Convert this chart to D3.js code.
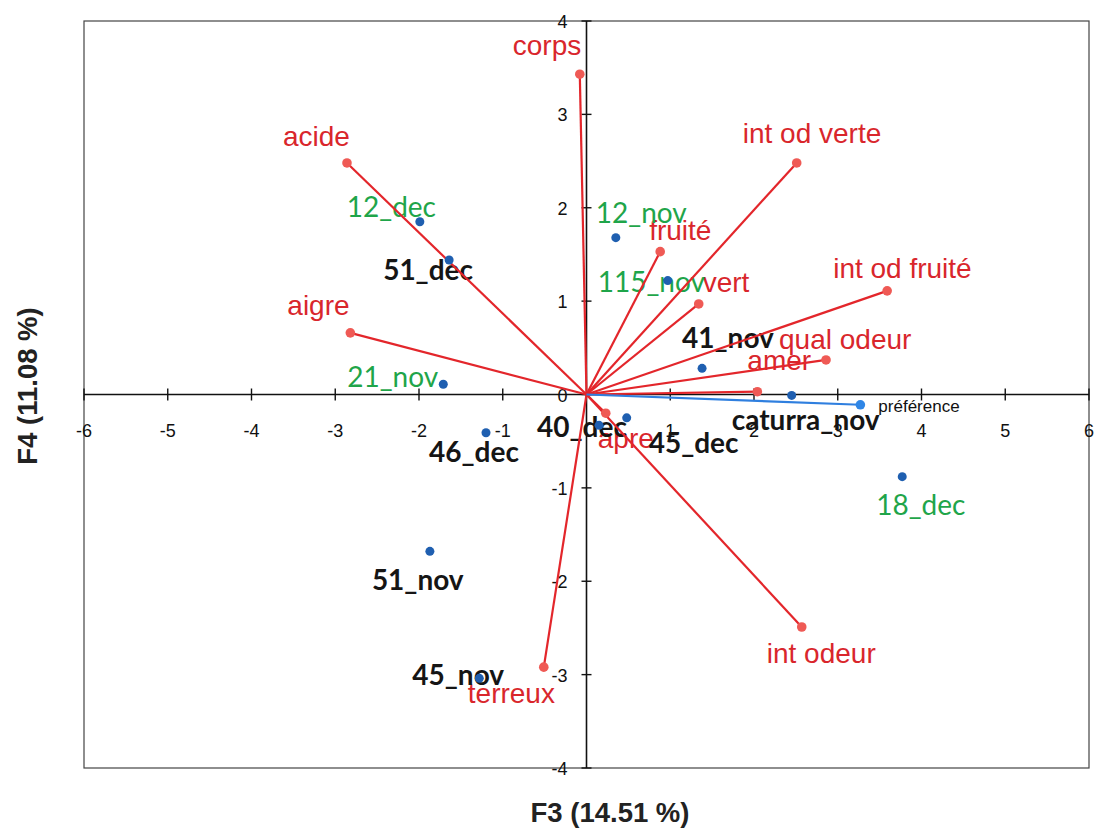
<!DOCTYPE html>
<html lang="fr">
<head>
<meta charset="UTF-8">
<title>Biplot F3 / F4</title>
<script src="https://d3js.org/d3.v7.min.js"></script>
<style>
  body { margin: 0; background: #fff; }
  .tick-label { font-family: "Liberation Sans", Arial, sans-serif; font-size: 18px; fill: #111; }
  .var-label { font-family: "Liberation Sans", Arial, sans-serif; font-size: 28px; fill: #d9262c; }
  .obs-label { font-family: Lato, "Open Sans", sans-serif; font-size: 28px; }
  .axis-title { font-family: "Liberation Sans", Arial, sans-serif; font-size: 27.5px; font-weight: bold; fill: #222; }
</style>
</head>
<body>
<svg width="1095" height="830"></svg>
<script>
// variables (red vectors)
const varNames = ["corps", "acide", "aigre", "int od verte", "int od fruité", "fruité", "vert",
                  "qual odeur", "amer", "apre", "int odeur", "terreux"];
const varF3 = [-0.08, -2.86, -2.82, 2.51, 3.59, 0.88, 1.34, 2.86, 2.04, 0.23, 2.57, -0.51];
const varF4 = [3.43, 2.48, 0.66, 2.48, 1.11, 1.53, 0.97, 0.37, 0.03, -0.20, -2.49, -2.92];

// supplementary variable
const prefName = "préférence";
const prefF3 = 3.27;
const prefF4 = -0.11;

// observations
const obsNames = ["12_dec", "51_dec", "12_nov", "115_nov", "41_nov", "21_nov", "46_dec",
                  "40_dec", "45_dec", "caturra_nov", "18_dec", "51_nov", "45_nov"];
const obsF3 = [-1.99, -1.64, 0.35, 0.97, 1.38, -1.71, -1.20, 0.15, 0.48, 2.45, 3.77, -1.87, -1.28];
const obsF4 = [1.85, 1.44, 1.68, 1.22, 0.28, 0.11, -0.41, -0.33, -0.25, -0.01, -0.88, -1.68, -3.04];
const obsGreen = [true, false, true, true, false, true, false, false, false, false, true, false, false];

const xTicks = [-6, -5, -4, -3, -2, -1, 1, 2, 3, 4, 5, 6];
const yTicks = [-4, -3, -2, -1, 0, 1, 2, 3, 4];

// label offsets in pixels (layout only)
const varLabelOffset = {
  "corps": [-67, -19], "acide": [-64, -17], "aigre": [-63, -18], "int od verte": [-54, -20],
  "int od fruité": [-54, -13], "fruité": [-11, -12], "vert": [4, -12], "qual odeur": [-47, -11],
  "amer": [-10, -22], "apre": [-8, 35], "int odeur": [-35, 36], "terreux": [-76, 36]
};
const obsLabelOffset = {
  "12_dec": [-73, -5], "51_dec": [-66, 20], "12_nov": [-20, -15], "115_nov": [-70, 11],
  "41_nov": [-20, -20], "21_nov": [-96, 3], "46_dec": [-57, 29], "40_dec": [-62, 12],
  "45_dec": [22, 35], "caturra_nov": [-60, 35], "18_dec": [-26, 38], "51_nov": [-58, 39],
  "45_nov": [-67, 7]
};

const svg = d3.select("svg");
const plotLeft = 84, plotRight = 1089, plotTop = 21, plotBottom = 768;

const x = d3.scaleLinear().domain([-6, 6]).range([plotLeft, plotRight]);
const y = d3.scaleLinear().domain([-4, 4]).range([plotBottom, plotTop]);

// frame
svg.append("rect")
  .attr("x", plotLeft).attr("y", plotTop)
  .attr("width", plotRight - plotLeft).attr("height", plotBottom - plotTop)
  .attr("fill", "none").attr("stroke", "#444").attr("stroke-width", 1.2);

// axes through origin
const xAxis = svg.append("g").attr("transform", `translate(0,${y(0)})`);
xAxis.append("line").attr("x1", plotLeft).attr("x2", plotRight).attr("stroke", "#111").attr("stroke-width", 1.6);
xAxis.selectAll(".xt").data(xTicks).join("line")
  .attr("x1", d => x(d)).attr("x2", d => x(d)).attr("y1", -6).attr("y2", 6)
  .attr("stroke", "#111").attr("stroke-width", 1.4);
xAxis.selectAll(".xl").data(xTicks).join("text")
  .attr("class", "tick-label")
  .attr("x", d => x(d)).attr("y", 42)
  .attr("text-anchor", "middle")
  .text(d => d);

const yAxis = svg.append("g").attr("transform", `translate(${x(0)},0)`);
yAxis.append("line").attr("y1", plotTop).attr("y2", plotBottom).attr("stroke", "#111").attr("stroke-width", 1.6);
yAxis.selectAll(".yt").data(yTicks).join("line")
  .attr("y1", d => y(d)).attr("y2", d => y(d)).attr("x1", -5).attr("x2", 5)
  .attr("stroke", "#111").attr("stroke-width", 1.4);
yAxis.selectAll(".yl").data(yTicks).join("text")
  .attr("class", "tick-label")
  .attr("x", -19).attr("y", d => y(d) + 7)
  .attr("text-anchor", "end")
  .text(d => d);

// axis titles
svg.append("text").attr("class", "axis-title")
  .attr("x", 610).attr("y", 822).attr("text-anchor", "middle")
  .text("F3 (14.51 %)");
svg.append("text").attr("class", "axis-title")
  .attr("transform", `translate(37,386) rotate(-90)`).attr("text-anchor", "middle")
  .text("F4 (11.08 %)");

const vars = varNames.map((n, i) => ({ name: n, f3: varF3[i], f4: varF4[i] }));
const obs = obsNames.map((n, i) => ({ name: n, f3: obsF3[i], f4: obsF4[i], green: obsGreen[i] }));

// labels first, lines and dots drawn over them
svg.append("g").selectAll("text").data(vars).join("text")
  .attr("class", "var-label")
  .attr("x", d => x(d.f3) + varLabelOffset[d.name][0])
  .attr("y", d => y(d.f4) + varLabelOffset[d.name][1])
  .text(d => d.name);

svg.append("g").selectAll("text").data(obs).join("text")
  .attr("class", "obs-label")
  .attr("x", d => x(d.f3) + obsLabelOffset[d.name][0])
  .attr("y", d => y(d.f4) + obsLabelOffset[d.name][1])
  .attr("fill", d => d.green ? "#1fa54a" : "#151515")
  .attr("font-weight", d => d.green ? "normal" : "bold")
  .text(d => d.name);

svg.append("text")
  .attr("x", x(prefF3) + 18).attr("y", y(prefF4) + 7)
  .attr("font-family", "'Liberation Sans', Arial, sans-serif")
  .attr("font-size", 17).attr("fill", "#111")
  .text(prefName);

// variable vectors
svg.append("g").selectAll("line").data(vars).join("line")
  .attr("x1", x(0)).attr("y1", y(0))
  .attr("x2", d => x(d.f3)).attr("y2", d => y(d.f4))
  .attr("stroke", "#e3262b").attr("stroke-width", 2.2);

svg.append("line")
  .attr("x1", x(0)).attr("y1", y(0))
  .attr("x2", x(prefF3)).attr("y2", y(prefF4))
  .attr("stroke", "#2f7fdf").attr("stroke-width", 2.2);

svg.append("g").selectAll("circle").data(vars).join("circle")
  .attr("cx", d => x(d.f3)).attr("cy", d => y(d.f4)).attr("r", 4.8)
  .attr("fill", "#ef5a55");

svg.append("circle")
  .attr("cx", x(prefF3)).attr("cy", y(prefF4)).attr("r", 4.8)
  .attr("fill", "#2f86e6");

// observations
svg.append("g").selectAll("circle").data(obs).join("circle")
  .attr("cx", d => x(d.f3)).attr("cy", d => y(d.f4)).attr("r", 4.5)
  .attr("fill", "#1f5fb0");
</script>
</body>
</html>
